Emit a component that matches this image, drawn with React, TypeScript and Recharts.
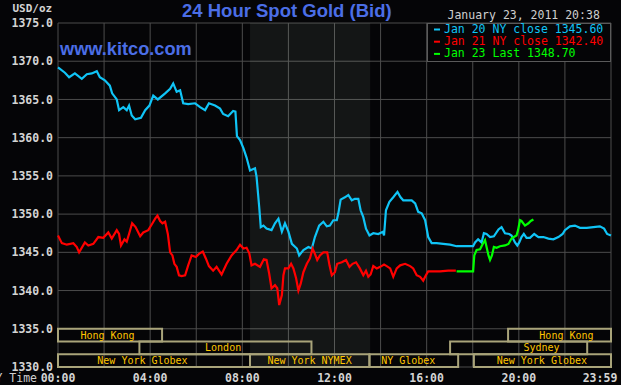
import { LineChart, Line, XAxis, YAxis, CartesianGrid, ReferenceArea, Legend, Customized } from 'recharts';

// minutes after midnight (NY time), bid price
const jan20: [number, number][] = [
  [0, 1369.2], [18, 1368.5], [29, 1367.9], [44, 1368.4], [62, 1367.7], [75, 1368.3], [88, 1368.4], [101, 1368.7],
  [109, 1367.9], [122, 1367.5], [135, 1366.8], [141, 1365.8], [153, 1365.0], [159, 1363.6], [170, 1364.0], [179, 1363.6],
  [185, 1364.2], [192, 1362.9], [201, 1362.4], [216, 1362.6], [227, 1363.6], [238, 1364.2], [248, 1365.5], [260, 1365.0],
  [279, 1365.8], [292, 1366.4], [300, 1367.1], [309, 1366.0], [318, 1366.2], [326, 1364.5], [339, 1364.4], [357, 1364.5],
  [370, 1364.0], [383, 1363.6], [393, 1364.5], [409, 1364.2], [422, 1363.8], [430, 1363.1], [443, 1362.8], [456, 1363.5],
  [462, 1363.4], [466, 1360.2], [474, 1359.7], [483, 1358.6], [491, 1357.4], [500, 1355.7], [513, 1356.0], [517, 1354.9],
  [524, 1350.9], [528, 1348.3], [535, 1348.5], [543, 1348.1], [556, 1347.9], [565, 1348.8], [574, 1349.4], [583, 1347.7],
  [591, 1348.8], [600, 1347.7], [609, 1346.1], [622, 1345.5], [628, 1344.6], [639, 1345.3], [652, 1345.7], [661, 1345.5],
  [669, 1347.0], [680, 1348.5], [691, 1349.0], [700, 1348.4], [708, 1348.5], [717, 1349.2], [726, 1349.2], [730, 1350.1],
  [736, 1351.9], [747, 1352.2], [756, 1352.5], [765, 1351.8], [773, 1352.0], [782, 1352.0], [788, 1350.5], [795, 1349.6],
  [802, 1348.1], [811, 1347.2], [821, 1347.5], [834, 1347.4], [846, 1347.7], [849, 1347.2], [854, 1350.5], [863, 1351.6],
  [873, 1352.2], [884, 1352.9], [892, 1352.2], [899, 1351.8], [912, 1351.8], [921, 1351.8], [930, 1351.4], [938, 1350.3],
  [947, 1350.1], [956, 1349.2], [964, 1347.0], [973, 1346.2], [986, 1346.2], [1003, 1346.1], [1021, 1346.0], [1038, 1345.8],
  [1055, 1345.8], [1081, 1345.8], [1086, 1346.3], [1094, 1346.7], [1103, 1346.3], [1109, 1347.5], [1116, 1347.4], [1125, 1347.0],
  [1135, 1347.1], [1147, 1348.0], [1155, 1348.3], [1164, 1347.5], [1175, 1347.4], [1181, 1347.2], [1190, 1346.3], [1196, 1345.9],
  [1201, 1346.3], [1207, 1347.0], [1213, 1347.4], [1220, 1346.9], [1229, 1346.9], [1240, 1347.4], [1251, 1347.0], [1264, 1347.0],
  [1277, 1346.8], [1290, 1346.7], [1303, 1347.0], [1314, 1347.4], [1320, 1347.9], [1333, 1348.4], [1346, 1348.5], [1359, 1348.2],
  [1377, 1348.2], [1394, 1348.3], [1411, 1348.4], [1422, 1348.1], [1430, 1347.4], [1440, 1347.2],
];

const jan21: [number, number][] = [
  [0, 1347.2], [10, 1346.2], [23, 1346.0], [40, 1346.2], [49, 1345.7], [55, 1345.0], [70, 1346.3], [79, 1345.9],
  [92, 1346.1], [105, 1347.0], [118, 1346.9], [131, 1347.6], [140, 1346.8], [153, 1347.9], [159, 1347.4], [164, 1345.9],
  [173, 1346.7], [179, 1346.4], [185, 1347.4], [193, 1348.8], [202, 1348.3], [214, 1347.1], [222, 1347.6], [235, 1347.9],
  [246, 1348.8], [253, 1349.4], [259, 1349.8], [266, 1349.1], [272, 1348.8], [279, 1349.0], [286, 1347.4], [292, 1345.0],
  [298, 1344.6], [303, 1343.5], [309, 1343.1], [315, 1342.0], [322, 1341.9], [331, 1342.0], [339, 1343.3], [348, 1344.6],
  [359, 1344.4], [367, 1344.8], [377, 1345.1], [385, 1344.2], [393, 1343.2], [404, 1342.6], [413, 1343.1], [426, 1342.1],
  [439, 1343.5], [452, 1344.6], [465, 1345.3], [474, 1346.0], [483, 1345.5], [491, 1345.6], [498, 1344.9], [504, 1343.3],
  [513, 1343.5], [526, 1343.1], [536, 1344.1], [543, 1344.0], [550, 1342.2], [556, 1340.3], [565, 1340.7], [571, 1340.3],
  [576, 1338.1], [583, 1339.4], [587, 1342.0], [591, 1342.9], [600, 1342.9], [607, 1343.5], [613, 1342.9], [620, 1341.6],
  [626, 1340.0], [632, 1340.9], [639, 1342.4], [648, 1343.5], [656, 1344.2], [663, 1345.5], [669, 1344.8], [675, 1344.0],
  [682, 1344.6], [691, 1345.0], [701, 1345.0], [707, 1343.3], [713, 1342.0], [721, 1342.4], [727, 1343.5], [739, 1343.7],
  [750, 1344.0], [759, 1343.1], [767, 1343.5], [776, 1343.7], [786, 1342.9], [795, 1342.0], [802, 1342.6], [808, 1341.8],
  [814, 1342.1], [821, 1343.2], [830, 1342.9], [839, 1343.1], [849, 1343.4], [856, 1343.2], [865, 1342.9], [873, 1341.8],
  [882, 1342.9], [891, 1343.3], [904, 1343.5], [917, 1343.2], [925, 1342.9], [934, 1342.0], [943, 1341.8], [951, 1341.3],
  [958, 1342.0], [964, 1342.5], [977, 1342.5], [995, 1342.5], [1016, 1342.6], [1036, 1342.6],
];

const jan23: [number, number][] = [
  [1038, 1342.5], [1081, 1342.5], [1084, 1344.6], [1090, 1345.3], [1099, 1345.4], [1106, 1346.1], [1112, 1346.6], [1116, 1345.7],
  [1121, 1344.6], [1125, 1344.0], [1130, 1344.6], [1135, 1345.7], [1142, 1345.6], [1151, 1345.8], [1164, 1345.9], [1173, 1346.1],
  [1181, 1346.8], [1187, 1347.0], [1194, 1347.2], [1198, 1347.9], [1203, 1349.2], [1207, 1349.1], [1216, 1348.5], [1225, 1348.8],
  [1231, 1349.1], [1238, 1349.3],
];

const yTicks = [1330, 1335, 1340, 1345, 1350, 1355, 1360, 1365, 1370, 1375];
const xTicks = [0, 120, 240, 360, 480, 600, 720, 840, 960, 1080, 1200, 1320, 1440];
const xTickLabels = ['00:00', '', '04:00', '', '08:00', '', '12:00', '', '16:00', '', '20:00', '', '23:59'];

const legendItems = [
  { label: 'Jan 20 NY close 1345.60', color: '#10c4f6' },
  { label: 'Jan 21 NY close 1342.40', color: '#ff0000' },
  { label: 'Jan 23 Last 1348.70', color: '#00ff00' },
];

// row 0 = top band
const sessions = [
  { name: 'Hong Kong', row: 0, start: 0, end: 271, labelAt: 129 },
  { name: 'Hong Kong', row: 0, start: 1172, end: 1440, labelAt: 1324 },
  { name: 'London', row: 1, start: 212, end: 660, labelAt: 430 },
  { name: 'Sydney', row: 1, start: 1021, end: 1378, labelAt: 1259 },
  { name: 'New York Globex', row: 2, start: 0, end: 500, labelAt: 220 },
  { name: 'New York NYMEX', row: 2, start: 500, end: 811, labelAt: 655 },
  { name: 'NY Globex', row: 2, start: 811, end: 1042, labelAt: 912 },
  { name: 'New York Globex', row: 2, start: 1083, end: 1440, labelAt: 1260 },
];

const nymexOpen = 500;
const nymexClose = 813;

const MONO = "'DejaVu Sans Mono', monospace";
const BG = '#050507';

const toPoints = (s: [number, number][]) => s.map(([t, p]) => ({ t, p }));

const XTick = (props: any) => {
  const { x, y, index } = props;
  const label = xTickLabels[index] ?? '';
  const dx = index === xTickLabels.length - 1 ? -11 : 0;
  return (
    <text x={x + dx} y={y} dy="0.71em" textAnchor="middle" fill="#d4d4d4" fontFamily={MONO} fontSize={11.5} fontWeight="bold">
      {label}
    </text>
  );
};

const LegendBox = () => (
  <svg width={184} height={39} style={{ display: 'block' }}>
    <rect x={0.5} y={0.5} width={183} height={38} fill={BG} stroke="#5a5a5a" />
    {legendItems.map((it, i) => (
      <g key={i}>
        <rect x={7} y={5.5 + i * 12.2} width={6} height={2} fill={it.color} />
        <text x={17} y={9.5 + i * 12.2} fill={it.color} fontFamily={MONO} fontSize={11.5}>
          {it.label}
        </text>
      </g>
    ))}
  </svg>
);

const Overlay = () => (
  <g>
    <text x={12.5} y={12} fill="#d4d4d4" fontFamily={MONO} fontSize={11} fontWeight="bold">USD/oz</text>
    <text x={182} y={17} fill="#4b6ee6" fontFamily="'Liberation Sans', Arial, sans-serif" fontSize={18.5} fontWeight="bold">
      24 Hour Spot Gold (Bid)
    </text>
    <text x={60} y={54.5} fill="#4b6ee6" fontFamily="'Liberation Sans', Arial, sans-serif" fontSize={18.2} fontWeight="bold">
      www.kitco.com
    </text>
    <text x={447.5} y={18.5} fill="#cfcfcf" fontFamily={MONO} fontSize={11.5}>January 23, 2011 20:38</text>
    <text x={37} y={382} textAnchor="end" fill="#cfcfcf" fontFamily={MONO} fontSize={11.5}>NY Time</text>
  </g>
);

const rowBounds = (row: number): [number, number] => {
  const h = 5 / 3;
  const top = 1335 - row * h;
  return [top - h, top];
};

export default function App() {
  return (
    <div style={{ position: 'absolute', left: 0, top: 0, width: 621, height: 385, background: BG }}>
      <LineChart width={621} height={385} margin={{ top: 23, right: 10, bottom: 0, left: 0 }}>
        <ReferenceArea x1={nymexOpen} x2={nymexClose} y1={1330} y2={1375} fill="#e0ffe0" fillOpacity={0.07} stroke="none" />
        <CartesianGrid stroke="#4c4c4c" strokeWidth={1} />
        <XAxis
          type="number"
          dataKey="t"
          domain={[0, 1440]}
          ticks={xTicks}
          interval={0}
          tick={<XTick />}
          tickLine={false}
          axisLine={false}
          tickSize={0}
          tickMargin={7}
          height={18}
          allowDuplicatedCategory={false}
        />
        <YAxis
          type="number"
          domain={[1330, 1375]}
          ticks={yTicks}
          interval={0}
          width={58}
          tickLine={false}
          axisLine={false}
          tickSize={0}
          tickMargin={5}
          tickFormatter={(v: number) => v.toFixed(1)}
          tick={{ fill: '#d4d4d4', fontFamily: MONO, fontSize: 11.5, fontWeight: 'bold' }}
        />
        {sessions.map((s, i) => {
          const [y1, y2] = rowBounds(s.row);
          return (
            <ReferenceArea
              key={i}
              x1={s.start}
              x2={s.end}
              y1={y1}
              y2={y2}
              fill="none"
              fillOpacity={0}
              stroke="#a9a47a"
              strokeWidth={2}
              label={(p: any) => {
                const vb = p.viewBox || {};
                const cx = vb.x + ((s.labelAt - s.start) / (s.end - s.start)) * vb.width;
                return (
                  <text x={cx} y={vb.y + vb.height / 2 + 3.6} textAnchor="middle" fill="#ffc600" fontFamily={MONO} fontSize={10}>
                    {s.name}
                  </text>
                );
              }}
            />
          );
        })}
        <Line data={toPoints(jan20)} dataKey="p" type="linear" stroke="#10c4f6" strokeWidth={2.2} dot={false} isAnimationActive={false} />
        <Line data={toPoints(jan21)} dataKey="p" type="linear" stroke="#ff0000" strokeWidth={2.2} dot={false} isAnimationActive={false} />
        <Line data={toPoints(jan23)} dataKey="p" type="linear" stroke="#00ff00" strokeWidth={2.2} dot={false} isAnimationActive={false} />
        <Legend
          layout="horizontal"
          verticalAlign="middle"
          align="center"
          content={() => <LegendBox />}
          wrapperStyle={{ left: 427, top: 23, width: 184, height: 39 }}
        />
        <Customized component={<Overlay />} />
      </LineChart>
    </div>
  );
}
